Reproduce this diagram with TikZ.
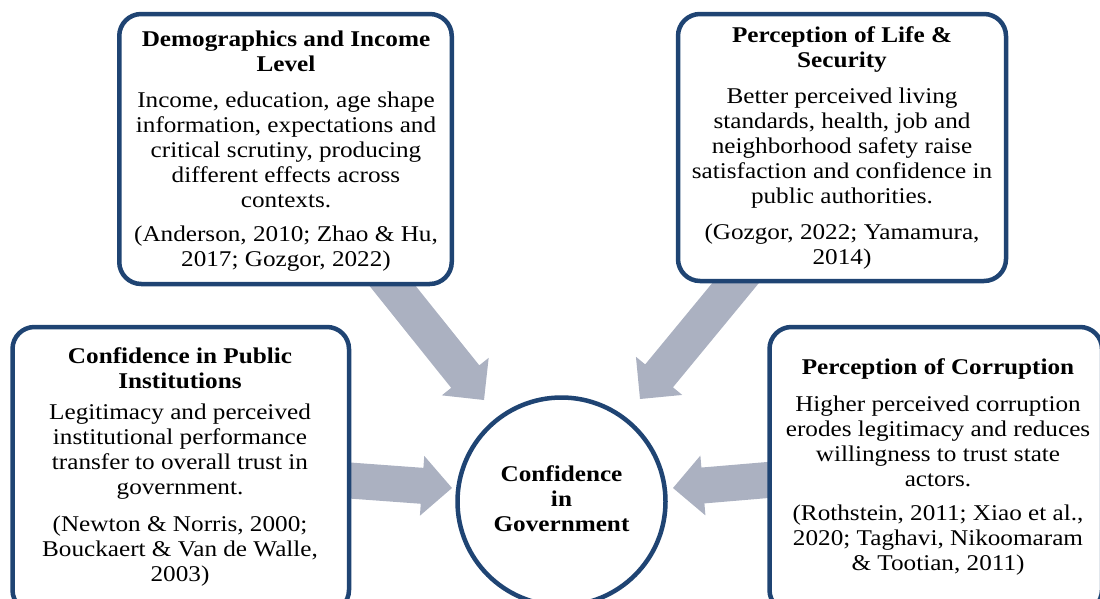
\documentclass[tikz,border=0pt]{standalone}
\usepackage{fontspec}
\setmainfont{Liberation Serif}[FakeStretch=1.12]
\usetikzlibrary{calc}
\definecolor{boxblue}{RGB}{31,68,115}
\definecolor{arrowgray}{RGB}{171,177,193}
% block arrow: #1 start, #2 tip, #3 prefix name
\newcommand{\blockarrow}[3]{%
  \coordinate (#3h) at ($(#2)!30pt!(#1)$);
  \fill[arrowgray] ($(#1)!18pt!90:(#2)$) -- ($(#3h)!18pt!90:(#2)$) -- ($(#3h)!30pt!90:(#2)$)
    -- (#2) -- ($(#3h)!30pt!-90:(#2)$) -- ($(#3h)!18pt!-90:(#2)$) -- ($(#1)!18pt!-90:(#2)$) -- cycle;}
\begin{document}
\begin{tikzpicture}[x=1pt,y=-1pt,
  box/.style={draw=boxblue, line width=4.5pt, fill=white, rounded corners=22pt, inner sep=0pt, rectangle},
  hub/.style={draw=boxblue, line width=4.5pt, fill=white, circle, inner sep=0pt, minimum size=208pt},
  txt/.style={align=center, inner sep=0pt, font=\fontsize{22.5}{25}\selectfont},
  ttl/.style={align=center, inner sep=0pt, font=\fontsize{22.5}{25}\selectfont\bfseries}]
\useasboundingbox (0,0) rectangle (1100,598);
\clip (0,0) rectangle (1100,598);

% arrows
\coordinate (s1) at (367,254);   \coordinate (t1) at (484,400);
\coordinate (s2) at (759.5,254); \coordinate (t2) at (640,399);
\coordinate (s3) at (310,477.6); \coordinate (t3) at (452,488);
\coordinate (s4) at (808,476.6); \coordinate (t4) at (673,488);
\blockarrow{s1}{t1}{a1}
\blockarrow{s2}{t2}{a2}
\blockarrow{s3}{t3}{a3}
\blockarrow{s4}{t4}{a4}

% boxes
\node[box, minimum width=332.5pt, minimum height=270pt] (demo) at (285.5,149) {};
\node[box, minimum width=328pt, minimum height=267pt] (life) at (842,147.5) {};
\node[box, minimum width=336.5pt, minimum height=285pt] (inst) at (180.75,469.5) {};
\node[box, minimum width=332.5pt, minimum height=285pt] (corr) at (935.75,469.5) {};
\node[hub] (gov) at (561.5,501.5) {};

% texts
\node[ttl] (demoT) at (286,51) {Demographics and Income\\Level};
\node[txt] (demoB) at (286,150) {Income, education, age shape\\information, expectations and\\critical scrutiny, producing\\different effects across\\contexts.};
\node[txt] (demoC) at (286,249) {(Anderson, 2010; Zhao \& Hu,\\2017; Gozgor, 2022)};

\node[ttl] (lifeT) at (842,50) {Perception of Life \&\\Security};
\node[txt] (lifeB) at (842,148) {Better perceived living\\standards, health, job and\\neighborhood safety raise\\satisfaction and confidence in\\public authorities.};
\node[txt] (lifeC) at (842,247) {(Gozgor, 2022; Yamamura,\\2014)};

\node[ttl] (instT) at (180,368) {Confidence in Public\\Institutions};
\node[txt] (instB) at (180,452) {Legitimacy and perceived\\institutional performance\\transfer to overall trust in\\government.};
\node[txt] (instC) at (180,551) {(Newton \& Norris, 2000;\\Bouckaert \& Van de Walle,\\2003)};

\node[ttl] (corrT) at (938,369) {Perception of Corruption};
\node[txt] (corrB) at (938,441) {Higher perceived corruption\\erodes legitimacy and reduces\\willingness to trust state\\actors.};
\node[txt] (corrC) at (938,540) {(Rothstein, 2011; Xiao et al.,\\2020; Taghavi, Nikoomaram\\\& Tootian, 2011)};

\node[ttl] (govT) at (561.5,499) {Confidence\\in\\Government};
\end{tikzpicture}
\end{document}
